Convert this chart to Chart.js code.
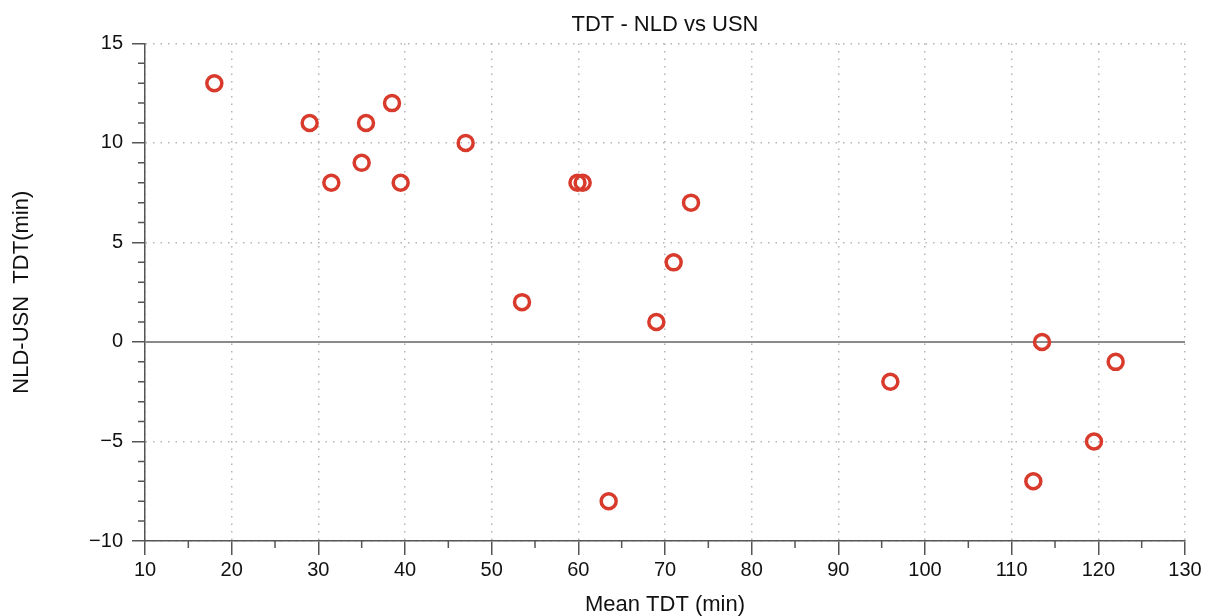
<!DOCTYPE html>
<html>
<head>
<meta charset="utf-8">
<script src="https://cdn.jsdelivr.net/npm/chart.js@4.4.1/dist/chart.umd.min.js"></script>
<style>
  html, body { margin: 0; padding: 0; background: #fff; }
  #wrap { width: 1205px; height: 616px; }
</style>
</head>
<body>
<div id="wrap"><canvas id="chart" width="1205" height="616"></canvas></div>
<script>
// data: mean TDT (x) and NLD-USN difference (y)
const meanTDT = [18, 29, 31.5, 35, 35.5, 38.5, 39.5, 47, 53.5, 59.9, 60.5, 63.5, 69, 71, 73, 96, 112.5, 113.5, 119.5, 122];
const diffTDT = [13, 11, 8, 9, 11, 12, 8, 10, 2, 8, 8, -8, 1, 4, 7, -2, -7, 0, -5, -1];
const xTicks = [10, 20, 30, 40, 50, 60, 70, 80, 90, 100, 110, 120, 130];
const yTicks = [-10, -5, 0, 5, 10, 15];
const xMinorTicks = [15, 25, 35, 45, 55, 65, 75, 85, 95, 105, 115, 125];
const yMinorTicks = [-9, -8, -7, -6, -4, -3, -2, -1, 1, 2, 3, 4, 6, 7, 8, 9, 11, 12, 13, 14];

const FONT = "'Liberation Sans', Arial, Helvetica, sans-serif";
const AXIS_COL = '#555';

const points = meanTDT.map((x, i) => ({ x: x, y: diffTDT[i] }));

// minor ticks + zero line
const extrasPlugin = {
    id: 'extras',
    afterDraw(chart) {
        const ctx = chart.ctx;
        const xs = chart.scales.x, ys = chart.scales.y;
        const area = chart.chartArea;
        ctx.save();
        ctx.strokeStyle = AXIS_COL;
        ctx.lineWidth = 1.5;
        ctx.beginPath();
        xMinorTicks.forEach(v => {
            const px = xs.getPixelForValue(v);
            ctx.moveTo(px, area.bottom);
            ctx.lineTo(px, area.bottom + 7);
        });
        yMinorTicks.forEach(v => {
            const py = ys.getPixelForValue(v);
            ctx.moveTo(area.left - 7, py);
            ctx.lineTo(area.left, py);
        });
        ctx.stroke();
        ctx.restore();
    },
    beforeDatasetsDraw(chart) {
        const ctx = chart.ctx;
        const ys = chart.scales.y;
        const area = chart.chartArea;
        const py = ys.getPixelForValue(0);
        ctx.save();
        ctx.strokeStyle = '#8a8a8a';
        ctx.lineWidth = 2;
        ctx.beginPath();
        ctx.moveTo(area.left, py);
        ctx.lineTo(area.right, py);
        ctx.stroke();
        ctx.restore();
    }
};

new Chart(document.getElementById('chart').getContext('2d'), {
    type: 'scatter',
    data: {
        datasets: [{
            data: points,
            pointRadius: 7.5,
            pointHoverRadius: 7.5,
            pointBorderWidth: 3.5,
            pointBorderColor: '#d83a2c',
            pointBackgroundColor: 'rgba(255,255,255,0)'
        }]
    },
    options: {
        responsive: false,
        animation: false,
        events: [],
        layout: { padding: { left: 0, right: 20, top: 0, bottom: 0 } },
        plugins: {
            legend: { display: false },
            tooltip: { enabled: false },
            title: {
                display: true,
                text: 'TDT - NLD vs USN',
                fullSize: false,
                color: '#111',
                font: { family: FONT, size: 22, weight: 'normal', lineHeight: 1.2 },
                padding: { top: 12, bottom: 5 }
            }
        },
        scales: {
            x: {
                type: 'linear',
                min: 10,
                max: 130,
                afterBuildTicks: scale => { scale.ticks = xTicks.map(v => ({ value: v })); },
                afterFit: scale => { scale.height = 75; },
                ticks: {
                    color: '#111',
                    font: { family: FONT, size: 20 },
                    padding: 3,
                    maxRotation: 0
                },
                grid: {
                    color: '#b5b5b5',
                    lineWidth: 1.5,
                    tickColor: AXIS_COL,
                    tickWidth: 1.5,
                    tickLength: 14,
                    tickBorderDash: []
                },
                border: { display: true, color: AXIS_COL, width: 1.5, dash: [1.5, 6] },
                title: {
                    display: true,
                    text: 'Mean TDT (min)',
                    color: '#111',
                    font: { family: FONT, size: 22, lineHeight: 1 },
                    padding: { top: 0, bottom: 0 }
                }
            },
            y: {
                type: 'linear',
                min: -10,
                max: 15,
                afterBuildTicks: scale => { scale.ticks = yTicks.map(v => ({ value: v })); },
                afterFit: scale => { scale.width = 145; },
                ticks: {
                    color: '#111',
                    font: { family: FONT, size: 20 },
                    padding: 9,
                    callback: v => (v < 0 ? '\u2212' + Math.abs(v) : String(v))
                },
                grid: {
                    color: '#b5b5b5',
                    lineWidth: 1.5,
                    tickColor: AXIS_COL,
                    tickWidth: 1.5,
                    tickLength: 13,
                    tickBorderDash: []
                },
                border: { display: true, color: AXIS_COL, width: 1.5, dash: [1.5, 6] },
                title: {
                    display: true,
                    text: 'NLD-USN  TDT(min)',
                    color: '#111',
                    font: { family: FONT, size: 22, lineHeight: 1 },
                    padding: { top: 11, bottom: 0 }
                }
            }
        }
    },
    plugins: [extrasPlugin]
});
</script>
</body>
</html>
